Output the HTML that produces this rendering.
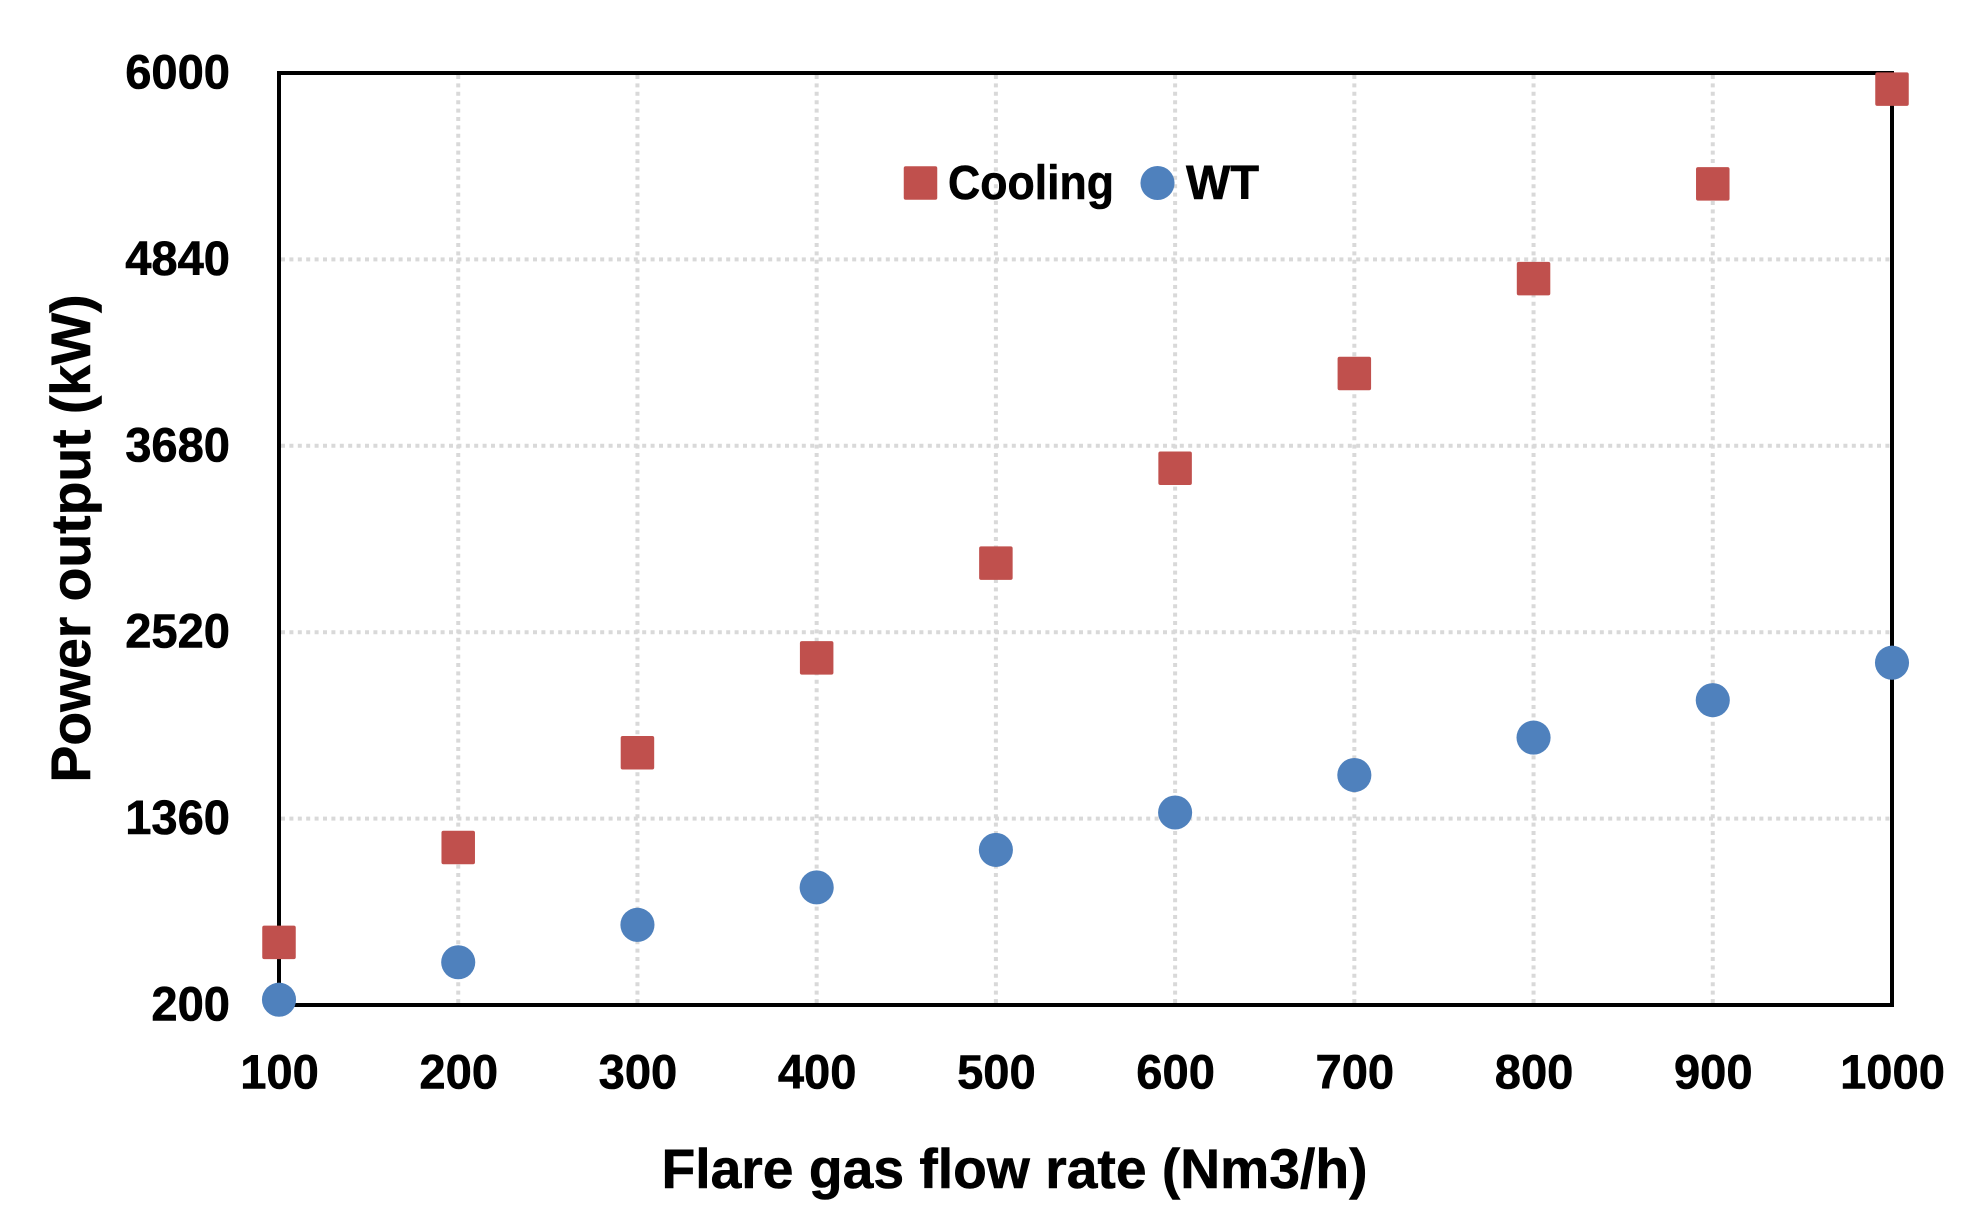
<!DOCTYPE html>
<html lang="en">
<head>
<meta charset="utf-8">
<title>Power output vs flare gas flow rate</title>
<style>
html,body{margin:0;padding:0;background:#fff;}
svg{display:block;}
text{font-family:"Liberation Sans",sans-serif;font-weight:700;fill:#000;stroke:#000;stroke-width:0.6px;}
</style>
</head>
<body>
<svg id="chart" xmlns="http://www.w3.org/2000/svg" width="1971" height="1215" viewBox="0 0 1971 1215"></svg>
<script>
const xCategories = [100, 200, 300, 400, 500, 600, 700, 800, 900, 1000];
const coolingValues = [590, 1180, 1770, 2360, 2950, 3540, 4130, 4720, 5310, 5900];
const wtValues = [233, 466, 699, 932, 1165, 1398, 1631, 1864, 2097, 2330];
const yTickValues = [200, 1360, 2520, 3680, 4840, 6000];
const xTickValues = [100, 200, 300, 400, 500, 600, 700, 800, 900, 1000];

const svg = document.getElementById('chart');
const NS = 'http://www.w3.org/2000/svg';
const plot = {left: 279, right: 1892, top: 73, bottom: 1005};
const xMin = 100, xMax = 1000, yMin = 200, yMax = 6000;
function xScale(v) { return plot.left + (v - xMin) / (xMax - xMin) * (plot.right - plot.left); }
function yScale(v) { return plot.bottom - (v - yMin) / (yMax - yMin) * (plot.bottom - plot.top); }
function make(tag, attrs, text) {
  const el = document.createElementNS(NS, tag);
  for (const k in attrs) el.setAttribute(k, attrs[k]);
  if (text !== undefined) el.textContent = text;
  svg.appendChild(el);
  return el;
}
const gridStyle = {stroke: '#d9d9d9', 'stroke-width': 4, 'stroke-dasharray': '4 4.4', fill: 'none'};

xTickValues.slice(1, -1).forEach(function (v) {
  const el = make('line', Object.assign({x1: xScale(v), x2: xScale(v), y1: plot.top + 2, y2: plot.bottom - 2}, gridStyle));
  
  
});
yTickValues.slice(1, -1).forEach(function (v) {
  const el = make('line', Object.assign({x1: plot.left + 2, x2: plot.right - 2, y1: yScale(v), y2: yScale(v)}, gridStyle));
  
  
});

const frame = make('rect', {x: plot.left, y: plot.top, width: plot.right - plot.left, height: plot.bottom - plot.top, fill: 'none', stroke: '#000', 'stroke-width': 4});



yTickValues.forEach(function (v) {
  const s = String(v);
  const el = make('text', {x: 230, y: yScale(v) + 15.5, 'text-anchor': 'end', 'font-size': 48, textLength: s.length * 26.2, lengthAdjust: 'spacingAndGlyphs'}, s);
  
  
});
xTickValues.forEach(function (v) {
  const s = String(v);
  const el = make('text', {x: xScale(v) + 0.5, y: 1088.5, 'text-anchor': 'middle', 'font-size': 48, textLength: s.length * 26.2, lengthAdjust: 'spacingAndGlyphs'}, s);
  
  
});

const xTitle = make('text', {x: 1014.5, y: 1188, 'text-anchor': 'middle', 'font-size': 56, textLength: 706, lengthAdjust: 'spacingAndGlyphs'}, 'Flare gas flow rate (Nm3/h)');



const yTitle = make('text', {x: 0, y: 0, transform: 'translate(90 538.5) rotate(-90)', 'text-anchor': 'middle', 'font-size': 56, textLength: 488, lengthAdjust: 'spacingAndGlyphs'}, 'Power output (kW)');



const markerSize = 33.5;
function drawSquare(cx, cy) {
  return make('rect', {x: cx - markerSize / 2, y: cy - markerSize / 2, width: markerSize, height: markerSize, rx: 2, fill: '#c0504d'});
}
function drawCircle(cx, cy) {
  return make('circle', {cx: cx, cy: cy, r: markerSize / 2 + 0.3, fill: '#4f81bd'});
}
wtValues.forEach(function (v, i) {
  const el = drawCircle(xScale(xCategories[i]), yScale(v));
  
  
});
coolingValues.forEach(function (v, i) {
  const el = drawSquare(xScale(xCategories[i]), yScale(v));
  
  
});

const legendSquare = drawSquare(925.5 - 5, 183);


const legendCooling = make('text', {x: 948, y: 199, 'font-size': 48, textLength: 166, lengthAdjust: 'spacingAndGlyphs'}, 'Cooling');


const legendCircle = drawCircle(1163.5 - 6, 183);


const legendWt = make('text', {x: 1186, y: 199, 'font-size': 48, textLength: 73, lengthAdjust: 'spacingAndGlyphs'}, 'WT');


</script>
</body>
</html>
